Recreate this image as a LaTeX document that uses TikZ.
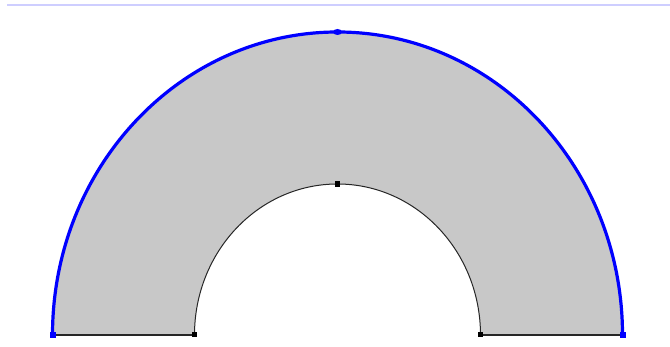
\documentclass[tikz,border=0pt]{standalone}
\usetikzlibrary{shapes.geometric}
\begin{document}
\begin{tikzpicture}[x=1pt,y=1pt,
  outerline/.style={draw=blue, line width=3.2pt},
  innerline/.style={draw=black!85, line width=1pt},
  baseedge/.style={draw=black!85, line width=1.8pt},
  bluedot/.style={fill=blue, minimum size=6pt, inner sep=0pt, rectangle},
  blackdot/.style={fill=black, minimum size=5pt, inner sep=0pt, rectangle}]
\useasboundingbox (0,0) rectangle (670,347);
\definecolor{annfill}{RGB}{200,200,200}
\definecolor{topline}{RGB}{206,206,255}
% top rule
\coordinate (tl) at (7,341.5);
\coordinate (tr) at (670,341.5);
\draw[topline, line width=2pt] (tl) -- (tr);
% key points
\coordinate (OL) at (52.5,12);
\coordinate (OR) at (622.5,12);
\coordinate (IL) at (194.5,12);
\coordinate (IR) at (480.5,12);
\coordinate (OT) at (337.5,315);
\coordinate (IT) at (337.5,163);
% filled half annulus
\fill[annfill] (OL) arc[start angle=180, end angle=0, x radius=285pt, y radius=303pt]
  -- (IR) arc[start angle=0, end angle=180, x radius=143pt, y radius=151pt] -- cycle;
% inner arc
\draw[innerline] (IR) arc[start angle=0, end angle=180, x radius=143pt, y radius=151pt];
% base lines
\draw[baseedge] (OL) -- (IL);
\draw[baseedge] (IR) -- (OR);
% outer arc
\draw[outerline] (OL) arc[start angle=180, end angle=0, x radius=285pt, y radius=303pt];
% dots
\node[bluedot] (dOL) at (OL) {};
\node[bluedot] (dOR) at (OR) {};
\node[bluedot, minimum width=9pt, minimum height=6pt, ellipse] (dOT) at (OT) {};
\node[blackdot] (dIL) at (IL) {};
\node[blackdot] (dIR) at (IR) {};
\node[blackdot, minimum size=5.5pt] (dIT) at (IT) {};
\end{tikzpicture}
\end{document}
